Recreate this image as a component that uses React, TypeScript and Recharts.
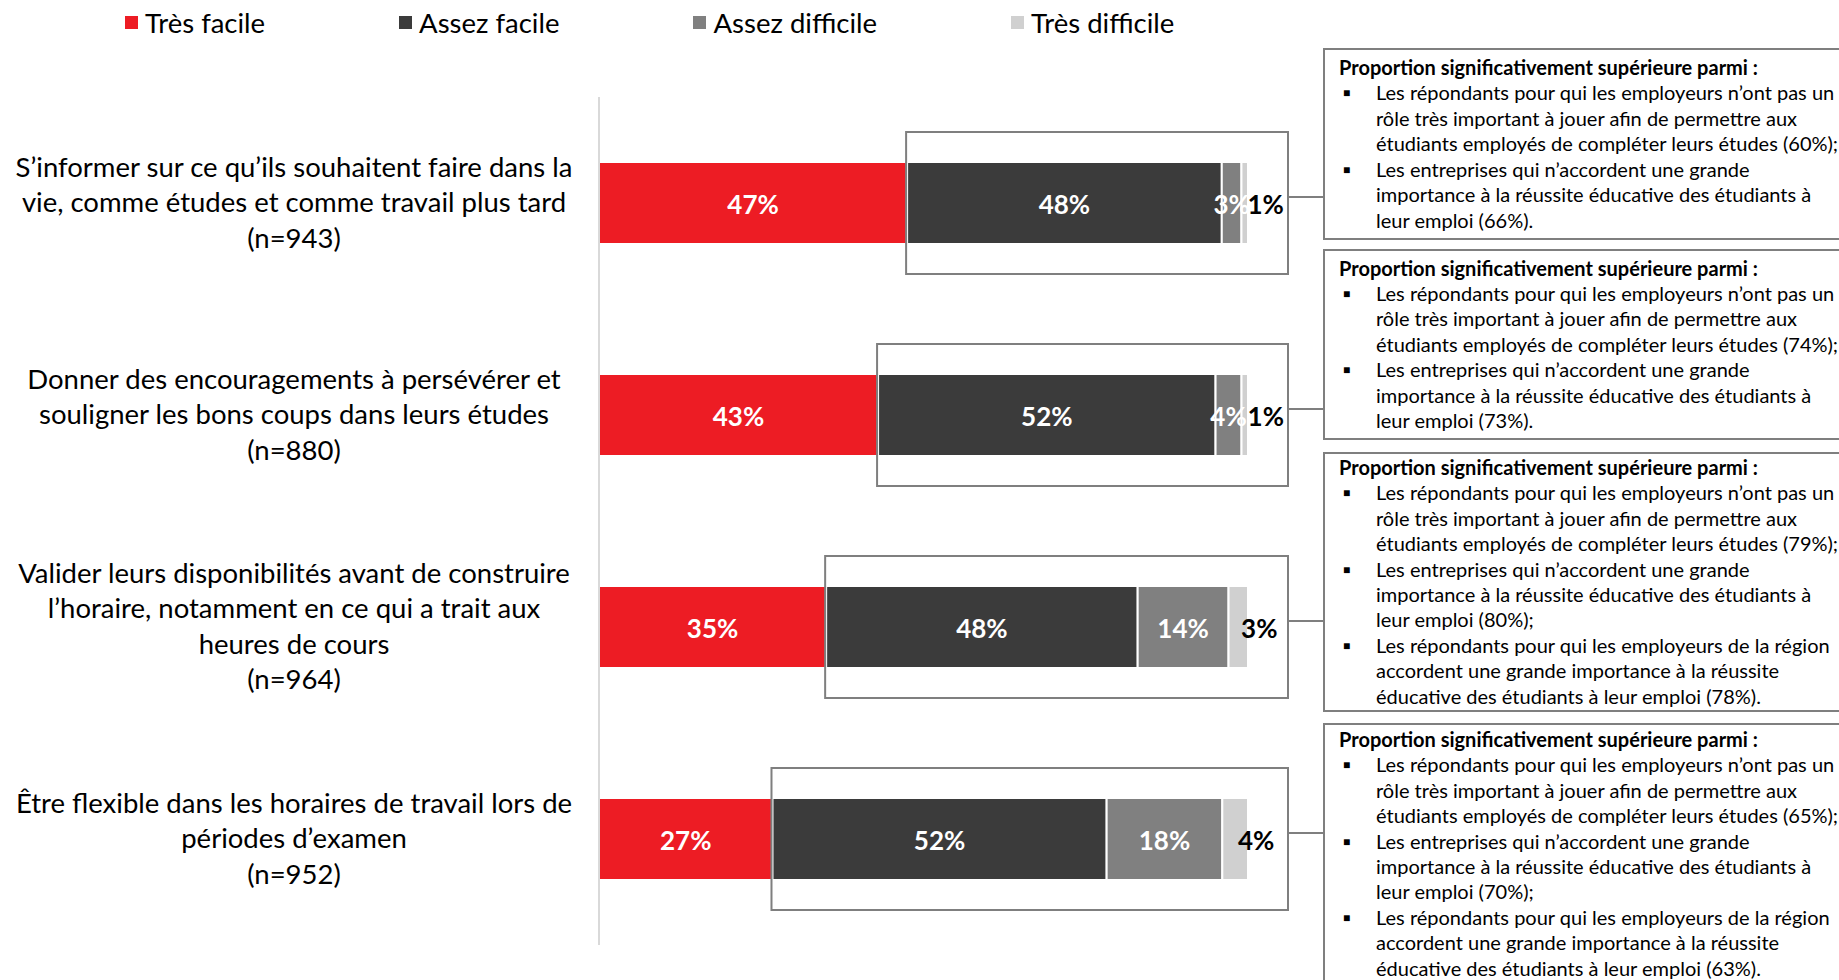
import React from 'react';
import { BarChart, Bar, XAxis, YAxis, LabelList } from 'recharts';

const categories = [
  'S’informer sur ce qu’ils souhaitent faire dans la\nvie, comme études et comme travail plus tard\n(n=943)',
  'Donner des encouragements à persévérer et\nsouligner les bons coups dans leurs études\n(n=880)',
  'Valider leurs disponibilités avant de construire\nl’horaire, notamment en ce qui a trait aux\nheures de cours\n(n=964)',
  'Être flexible dans les horaires de travail lors de\npériodes d’examen\n(n=952)',
];

const tresFacile = [47, 43, 35, 27];
const assezFacile = [48, 52, 48, 52];
const assezDifficile = [3, 4, 14, 18];
const tresDifficile = [1, 1, 3, 4];

const seriesNames = ['Très facile', 'Assez facile', 'Assez difficile', 'Très difficile'];
const seriesColors = ['#ED1C24', '#3B3B3B', '#808080', '#D0D0D0'];
const seriesKeys = ['tf', 'af', 'ad', 'td'];

const panelTitle = 'Proportion significativement supérieure parmi :';
const panelBullets = [
  [
    ['Les répondants pour qui les employeurs n’ont pas un', 'rôle très important à jouer afin de permettre aux', 'étudiants employés de compléter leurs études (60%);'],
    ['Les entreprises qui n’accordent une grande', 'importance à la réussite éducative des étudiants à', 'leur emploi (66%).'],
  ],
  [
    ['Les répondants pour qui les employeurs n’ont pas un', 'rôle très important à jouer afin de permettre aux', 'étudiants employés de compléter leurs études (74%);'],
    ['Les entreprises qui n’accordent une grande', 'importance à la réussite éducative des étudiants à', 'leur emploi (73%).'],
  ],
  [
    ['Les répondants pour qui les employeurs n’ont pas un', 'rôle très important à jouer afin de permettre aux', 'étudiants employés de compléter leurs études (79%);'],
    ['Les entreprises qui n’accordent une grande', 'importance à la réussite éducative des étudiants à', 'leur emploi (80%);'],
    ['Les répondants pour qui les employeurs de la région', 'accordent une grande importance à la réussite', 'éducative des étudiants à leur emploi (78%).'],
  ],
  [
    ['Les répondants pour qui les employeurs n’ont pas un', 'rôle très important à jouer afin de permettre aux', 'étudiants employés de compléter leurs études (65%);'],
    ['Les entreprises qui n’accordent une grande', 'importance à la réussite éducative des étudiants à', 'leur emploi (70%);'],
    ['Les répondants pour qui les employeurs de la région', 'accordent une grande importance à la réussite', 'éducative des étudiants à leur emploi (63%).'],
  ],
];

// layout of the annotation panels on the right
const panelTops = [48, 249, 452, 723];
const panelHeights = [192, 191, 260, 262];

const data = categories.map((name, i) => ({
  name,
  tf: tresFacile[i],
  af: assezFacile[i],
  ad: assezDifficile[i],
  td: tresDifficile[i],
}));

const FONT = 'Lato, "Open Sans", sans-serif';
const W = 1839;
const H = 980;
const MARGIN = { top: 97, right: 591, bottom: 35, left: 0 };
const AXIS_W = 599;
const PLOT_RIGHT = W - MARGIN.right;
const BOX_RIGHT = PLOT_RIGHT + 40;
const PANEL_LEFT = 1323;

const CategoryTick = (props: any) => {
  const { y, payload } = props;
  const lines = String(payload.value).split('\n');
  const lh = 35.5;
  const y0 = y - ((lines.length - 1) * lh) / 2 + 9;
  return (
    <text textAnchor="middle" fontFamily={FONT} fontSize={27.5} fill="#000">
      {lines.map((l, i) => (
        <tspan key={i} x={294} y={y0 + i * lh}>
          {l}
        </tspan>
      ))}
    </text>
  );
};

const SegmentShape = (props: any) => {
  const { x, y, width, height, fill } = props;
  return <rect x={x} y={y} width={Math.max(width, 0)} height={height} fill={fill} stroke="#fff" strokeWidth={2} />;
};

// dark segment also carries the grey frame and the connector to its panel
const FramedShape = (props: any) => {
  const { x, y, width, height, fill } = props;
  const cy = y + height / 2;
  return (
    <g>
      <rect x={x} y={y} width={width} height={height} fill={fill} stroke="#fff" strokeWidth={2} />
      <rect x={x - 1} y={cy - 71} width={BOX_RIGHT - x + 1} height={142} fill="none" stroke="#7F7F7F" strokeWidth={2} />
      <line x1={BOX_RIGHT} y1={cy - 6} x2={PANEL_LEFT} y2={cy - 6} stroke="#7F7F7F" strokeWidth={2} />
    </g>
  );
};

const makeLabel = (key: string, outside: boolean) => (props: any) => {
  const { x, y, width, height, index } = props;
  const v = (data[index] as any)[key];
  const cx = x + width / 2 + (outside ? 21 : 0);
  return (
    <text
      x={cx}
      y={y + height / 2 + 11}
      textAnchor="middle"
      fontFamily={FONT}
      fontWeight={700}
      fontSize={26}
      fill={outside ? '#000' : '#fff'}
    >
      {v}%
    </text>
  );
};

const Panel = ({ i }: { i: number }) => (
  <div
    style={{
      position: 'absolute',
      left: PANEL_LEFT,
      top: panelTops[i],
      width: 620,
      height: panelHeights[i],
      boxSizing: 'border-box',
      border: '2px solid #7F7F7F',
      background: '#fff',
      display: 'flex',
      flexDirection: 'column',
      justifyContent: 'center',
      paddingLeft: 14,
      fontFamily: FONT,
      fontSize: 20,
      lineHeight: '25.4px',
      color: '#000',
      whiteSpace: 'nowrap',
    }}
  >
    <div style={{ fontWeight: 700 }}>{panelTitle}</div>
    {panelBullets[i].map((b, j) => (
      <div key={j} style={{ position: 'relative', paddingLeft: 37 }}>
        <span style={{ position: 'absolute', left: 4, top: 0, fontSize: 12 }}>■</span>
        {b.map((l, k) => (
          <div key={k}>{l}</div>
        ))}
      </div>
    ))}
  </div>
);

export default function App() {
  return (
    <div style={{ position: 'absolute', left: 0, top: 0, width: W, height: H, overflow: 'hidden', background: '#fff' }}>
      <div
        style={{
          position: 'absolute',
          left: 125,
          top: 6,
          height: 32,
          display: 'flex',
          alignItems: 'center',
          fontFamily: FONT,
          fontSize: 27.5,
          color: '#000',
        }}
      >
        {seriesNames.map((n, i) => (
          <div key={n} style={{ display: 'flex', alignItems: 'center', marginRight: 134 }}>
            <span style={{ width: 13, height: 13, background: seriesColors[i], display: 'inline-block', marginRight: 7 }} />
            <span>{n}</span>
          </div>
        ))}
      </div>
      <BarChart
        width={W}
        height={H}
        data={data}
        layout="vertical"
        stackOffset="expand"
        margin={MARGIN}
        style={{ position: 'absolute', left: 0, top: 0 }}
      >
        <XAxis type="number" hide domain={[0, 1]} />
        <YAxis
          type="category"
          dataKey="name"
          width={AXIS_W}
          axisLine={{ stroke: '#D9D9D9', strokeWidth: 2 }}
          tickLine={false}
          tick={<CategoryTick />}
          interval={0}
        />
        {seriesKeys.map((k, i) => (
          <Bar
            key={k}
            dataKey={k}
            name={seriesNames[i]}
            stackId="s"
            fill={seriesColors[i]}
            barSize={82}
            isAnimationActive={false}
            shape={i === 1 ? <FramedShape /> : <SegmentShape />}
          >
            <LabelList dataKey={k} content={makeLabel(k, i === 3)} />
          </Bar>
        ))}
      </BarChart>
      {panelBullets.map((_, i) => (
        <Panel key={i} i={i} />
      ))}
    </div>
  );
}
